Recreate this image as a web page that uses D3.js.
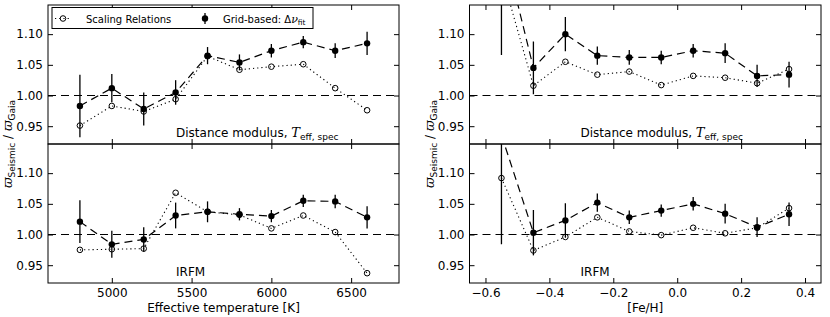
<!DOCTYPE html>
<html>
  <head>
    <meta charset="utf-8">
    <title>Seismic vs Gaia parallaxes</title>
    <script src="https://d3js.org/d3.v7.min.js"></script>
    <style>
      body { margin: 0; background: #fff; }
      svg { font-family: "DejaVu Sans", sans-serif; }
      .tick text { font-size: 12px; fill: #000; }
      .tick line { stroke: #000; }
      .math { font-family: "DejaVu Serif", serif; font-style: italic; }
    </style>
  </head>
  <body>
    <svg id="chart" width="830" height="317"></svg>
    <script>
      // data
      var teff = [4800, 5000, 5200, 5400, 5600, 5800, 6000, 6200, 6400, 6600];
      var feh = [-0.55, -0.45, -0.35, -0.25, -0.15, -0.05, 0.05, 0.15, 0.25, 0.35];

      var teffDistGrid = [0.983, 1.012, 0.978, 1.005, 1.065, 1.054, 1.073, 1.087, 1.073, 1.085];
      var teffDistErr = [0.051, 0.023, 0.027, 0.020, 0.014, 0.013, 0.011, 0.010, 0.012, 0.019];
      var teffDistScal = [0.951, 0.983, 0.974, 0.994, 1.064, 1.042, 1.047, 1.051, 1.012, 0.976];

      var teffIrfmGrid = [1.021, 0.984, 0.992, 1.031, 1.037, 1.033, 1.030, 1.055, 1.054, 1.028];
      var teffIrfmErr = [0.035, 0.022, 0.020, 0.021, 0.017, 0.010, 0.010, 0.010, 0.011, 0.018];
      var teffIrfmScal = [0.975, 0.976, 0.977, 1.068, 1.037, 1.032, 1.010, 1.031, 1.004, 0.937];

      var fehDistGrid = [1.257, 1.045, 1.100, 1.065, 1.062, 1.062, 1.073, 1.069, 1.032, 1.034];
      var fehDistErr = [0.191, 0.043, 0.028, 0.015, 0.012, 0.011, 0.011, 0.016, 0.018, 0.021];
      var fehDistScal = [1.199, 1.016, 1.055, 1.034, 1.039, 1.017, 1.032, 1.029, 1.020, 1.043];

      var fehIrfmGrid = [1.162, 1.003, 1.023, 1.052, 1.028, 1.039, 1.050, 1.034, 1.012, 1.033];
      var fehIrfmErr = [0.178, 0.037, 0.028, 0.015, 0.011, 0.010, 0.011, 0.016, 0.016, 0.019];
      var fehIrfmScal = [1.092, 0.974, 0.996, 1.028, 1.005, 0.999, 1.011, 1.002, 1.011, 1.043];

      var yTicks = [0.95, 1.00, 1.05, 1.10];
      var teffTicks = [5000, 5500, 6000, 6500];
      var fehTicks = [-0.6, -0.4, -0.2, 0.0, 0.2, 0.4];

      var svg = d3.select("#chart");

      var columns = [
        { x0: 48, x1: 399, domain: [4600, 6800], ticks: teffTicks, fmt: d3.format("d"),
          xs: teff, label: "Effective temperature [K]", textX: 128,
          rows: [[teffDistGrid, teffDistErr, teffDistScal], [teffIrfmGrid, teffIrfmErr, teffIrfmScal]] },
        { x0: 469.5, x1: 821, domain: [-0.65, 0.45], ticks: fehTicks, fmt: d3.format(".1f"),
          xs: feh, label: "[Fe/H]", textX: 111,
          rows: [[fehDistGrid, fehDistErr, fehDistScal], [fehIrfmGrid, fehIrfmErr, fehIrfmScal]] }
      ];
      var rowBox = [[5, 144], [144, 283]];

      columns.forEach(function(col, ci) {
        var x = d3.scaleLinear().domain(col.domain).range([col.x0, col.x1]);
        rowBox.forEach(function(rb, ri) {
          var y = d3.scaleLinear().domain([0.921, 1.1475]).range([rb[1], rb[0]]);
          var grid = col.rows[ri][0], err = col.rows[ri][1], scal = col.rows[ri][2];
          var clipId = "clip" + ci + ri;
          svg.append("clipPath").attr("id", clipId)
            .append("rect")
              .attr("x", col.x0).attr("y", rb[0])
              .attr("width", col.x1 - col.x0).attr("height", rb[1] - rb[0]);
          var g = svg.append("g").attr("clip-path", "url(#" + clipId + ")");

          // reference line
          g.append("line")
            .attr("x1", col.x0).attr("x2", col.x1)
            .attr("y1", y(1)).attr("y2", y(1))
            .attr("stroke", "#000").attr("stroke-width", 1.2)
            .attr("stroke-dasharray", "8,5");

          // scaling relations
          var line = d3.line()
            .x(function(d, i) { return x(col.xs[i]); })
            .y(function(d) { return y(d); });
          g.append("path")
            .attr("d", line(scal))
            .attr("fill", "none").attr("stroke", "#000").attr("stroke-width", 1.1)
            .attr("stroke-dasharray", "1.2,3");
          g.selectAll(".open")
              .data(scal)
            .enter().append("circle")
              .attr("cx", function(d, i) { return x(col.xs[i]); })
              .attr("cy", function(d) { return y(d); })
              .attr("r", 2.8)
              .attr("fill", "none").attr("stroke", "#000").attr("stroke-width", 1);

          // grid-based
          g.append("path")
            .attr("d", line(grid))
            .attr("fill", "none").attr("stroke", "#000").attr("stroke-width", 1.2)
            .attr("stroke-dasharray", "8,5");
          g.selectAll(".err")
              .data(grid)
            .enter().append("line")
              .attr("x1", function(d, i) { return x(col.xs[i]); })
              .attr("x2", function(d, i) { return x(col.xs[i]); })
              .attr("y1", function(d, i) { return y(d - err[i]); })
              .attr("y2", function(d, i) { return y(d + err[i]); })
              .attr("stroke", "#000").attr("stroke-width", 1.3);
          g.selectAll(".filled")
              .data(grid)
            .enter().append("circle")
              .attr("cx", function(d, i) { return x(col.xs[i]); })
              .attr("cy", function(d) { return y(d); })
              .attr("r", 3.2)
              .attr("fill", "#000");

          // axes, ticks pointing inwards
          var ax = svg.append("g");
          ax.append("g").attr("transform", "translate(0," + rb[1] + ")")
            .call(d3.axisBottom(x).tickValues(col.ticks).tickSizeInner(-5).tickSizeOuter(0)
              .tickPadding(5).tickFormat(ri === 1 ? col.fmt : ""));
          ax.append("g").attr("transform", "translate(0," + rb[0] + ")")
            .call(d3.axisTop(x).tickValues(col.ticks).tickSizeInner(-5).tickSizeOuter(0).tickFormat(""));
          ax.append("g").attr("transform", "translate(" + col.x0 + ",0)")
            .call(d3.axisLeft(y).tickValues(yTicks).tickSizeInner(-5).tickSizeOuter(0)
              .tickPadding(5).tickFormat(d3.format(".2f")));
          ax.append("g").attr("transform", "translate(" + col.x1 + ",0)")
            .call(d3.axisRight(y).tickValues(yTicks).tickSizeInner(-5).tickSizeOuter(0).tickFormat(""));
          ax.selectAll(".domain").remove();
          ax.selectAll("text").style("font-family", "DejaVu Sans");

          svg.append("rect")
            .attr("x", col.x0).attr("y", rb[0])
            .attr("width", col.x1 - col.x0).attr("height", rb[1] - rb[0])
            .attr("fill", "none").attr("stroke", "#000").attr("stroke-width", 1);

          // panel text
          var t = svg.append("text")
            .attr("x", col.x0 + col.textX).attr("y", rb[0] + 132)
            .attr("font-size", 12);
          if (ri === 0) {
            t.append("tspan").text("Distance modulus, ");
            t.append("tspan").attr("class", "math").attr("font-size", 13).text("T");
            t.append("tspan").attr("font-size", 9).attr("dy", 3).text("eff, spec");
          } else {
            t.text("IRFM");
          }
        });

        // axis labels
        svg.append("text")
          .attr("x", (col.x0 + col.x1) / 2).attr("y", 312)
          .attr("text-anchor", "middle").attr("font-size", 12)
          .text(col.label);
        var yl = svg.append("text")
          .attr("transform", "translate(" + (col.x0 - 36) + ",144) rotate(-90)")
          .attr("text-anchor", "middle").attr("font-size", 12);
        yl.append("tspan").attr("class", "math").attr("font-size", 13).text("ϖ");
        yl.append("tspan").attr("font-size", 9).attr("dy", 3).text("Seismic");
        yl.append("tspan").attr("dy", -3).text(" / ");
        yl.append("tspan").attr("class", "math").attr("font-size", 13).text("ϖ");
        yl.append("tspan").attr("font-size", 9).attr("dy", 3).text("Gaia");
      });

      // legend
      var lg = svg.append("g");
      lg.append("rect")
        .attr("x", 52).attr("y", 7.5).attr("width", 261).attr("height", 21)
        .attr("fill", "#fff").attr("stroke", "#000").attr("stroke-width", 1);
      lg.append("line")
        .attr("x1", 55).attr("x2", 71).attr("y1", 18.5).attr("y2", 18.5)
        .attr("stroke", "#000").attr("stroke-width", 1.1).attr("stroke-dasharray", "1.2,3");
      lg.append("circle")
        .attr("cx", 63).attr("cy", 18.5).attr("r", 2.8)
        .attr("fill", "none").attr("stroke", "#000");
      lg.append("text").attr("x", 86).attr("y", 22.5).attr("font-size", 10)
        .text("Scaling Relations");
      lg.append("line")
        .attr("x1", 205).attr("x2", 205).attr("y1", 13).attr("y2", 24)
        .attr("stroke", "#000").attr("stroke-width", 1.3);
      lg.append("circle")
        .attr("cx", 205).attr("cy", 18.5).attr("r", 3.2).attr("fill", "#000");
      var lt = lg.append("text").attr("x", 223).attr("y", 22.5).attr("font-size", 10);
      lt.append("tspan").text("Grid-based: Δ");
      lt.append("tspan").attr("class", "math").attr("font-size", 11).text("ν");
      lt.append("tspan").attr("font-size", 7.5).attr("dy", 2.5).text("fit");
    </script>
  </body>
</html>
